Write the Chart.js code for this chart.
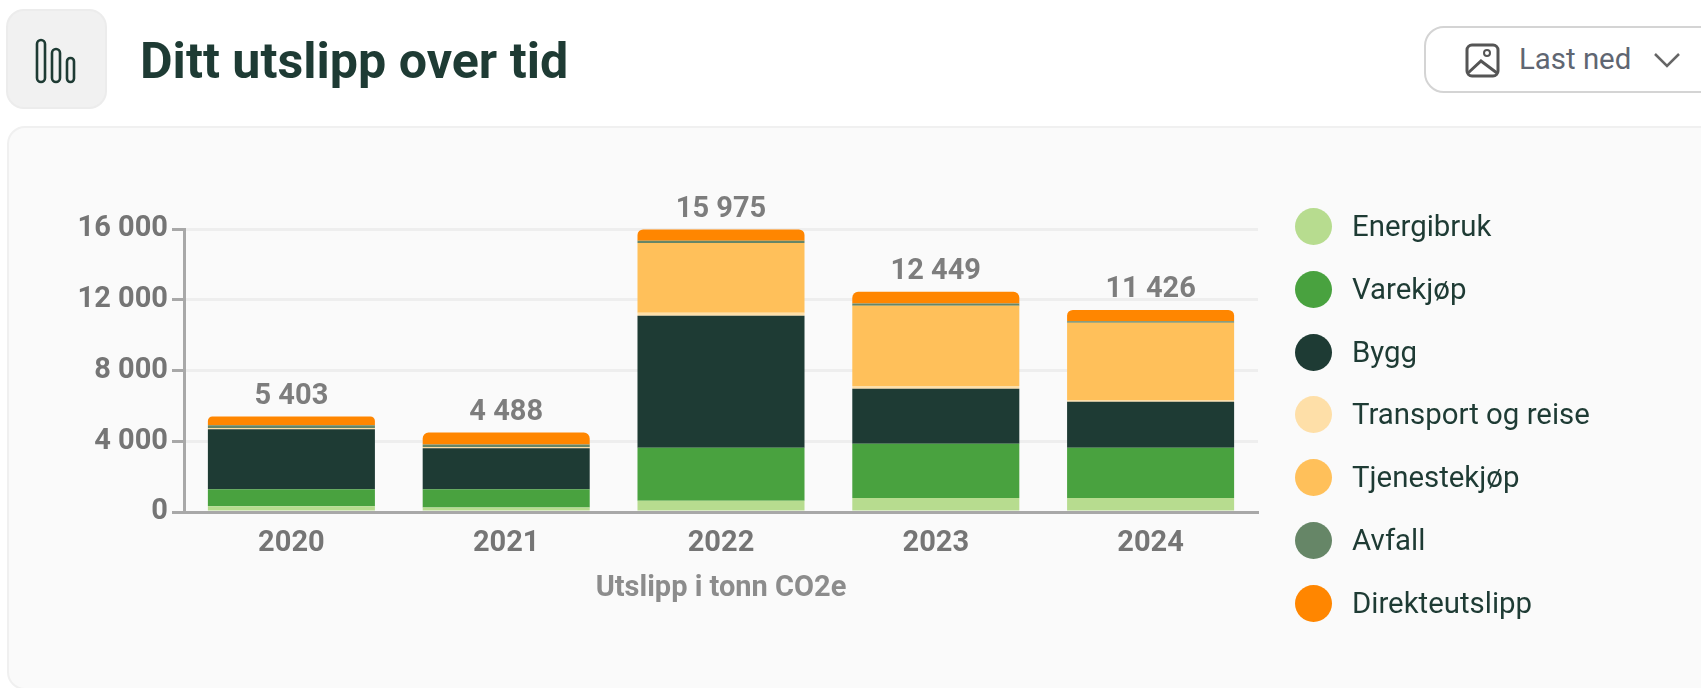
<!DOCTYPE html>
<html lang="no">
<head>
<meta charset="utf-8">
<title>Ditt utslipp over tid</title>
<script src="https://cdn.jsdelivr.net/npm/chart.js@4"></script>
<style>
    html, body { margin: 0; padding: 0; width: 1701px; height: 688px; overflow: hidden; background: #fff; font-family: Roboto, sans-serif; }
    .icon-box { position: absolute; left: 6px; top: 9px; width: 97px; height: 96px; background: #f1f1f1; border: 2px solid #ececec; border-radius: 18px; }
    .icon-bars { position: absolute; left: 0; top: 0; }
    h1 { position: absolute; left: 140px; top: 31px; margin: 0; font-size: 50.2px; line-height: 60px; font-weight: 700; color: #1e3b34; white-space: nowrap; }
    .button { position: absolute; left: 1424px; top: 26px; width: 340px; height: 63px; background: #fff; border: 2px solid #d4d4d4; border-radius: 20px; }
    .button span { position: absolute; left: 93px; top: 13px; font-size: 29.4px; line-height: 36px; color: #5f6672; white-space: nowrap; }
    .button svg { position: absolute; left: 0; top: 0; }
    .card { position: absolute; left: 7px; top: 126px; width: 1800px; height: 560px; background: #fafafa; border: 2px solid #f0f0f0; border-radius: 18px; }
    #graph { position: absolute; left: 0; top: 0; }
    #legend { position: absolute; left: 1295px; top: 195px; }
    .legend-row { position: relative; height: 62.8px; width: 380px; }
    .legend-row i { position: absolute; left: 0; top: 13px; width: 37px; height: 37px; border-radius: 50%; }
    .legend-row span { position: absolute; left: 57px; top: 13px; font-size: 29.4px; line-height: 36px; color: #1e3b34; white-space: nowrap; }
</style>
</head>
<body>

<div class="icon-box">
    <svg class="icon-bars" width="95" height="95">
        <g fill="none" stroke="#1e3b34" stroke-width="2.6">
            <rect x="29" y="29" width="8" height="42" rx="4"/>
            <rect x="44" y="38" width="8" height="33" rx="4"/>
            <rect x="59" y="47" width="7" height="24" rx="3.5"/>
        </g>
    </svg>
</div>
<h1>Ditt utslipp over tid</h1>

<div class="button">
    <svg width="340" height="63">
        <g fill="none" stroke="#555" stroke-width="3">
            <rect x="41" y="17" width="31" height="31" rx="5"/>
            <circle cx="61" cy="25" r="3" stroke-width="2"/>
            <path d="M42 45 L55 33 L71 45"/>
        </g>
        <path d="M229 26 L241 38 L253 26" fill="none" stroke="#666" stroke-width="2.5"/>
    </svg>
    <span>Last ned</span>
</div>

<div class="card"></div>
<canvas id="graph" width="1701" height="688"></canvas>
<div id="legend"></div>

<script>
var years = ['2020', '2021', '2022', '2023', '2024'];
var totals = [5403, 4488, 15975, 12449, 11426];
var totalLabels = ['5 403', '4 488', '15 975', '12 449', '11 426'];

var energibruk = [320, 250, 640, 790, 790];
var varekjop = [960, 1030, 2990, 3070, 2840];
var bygg = [3400, 2330, 7460, 3110, 2610];
var transport = [40, 40, 170, 150, 70];
var tjenestekjop = [30, 30, 3950, 4540, 4390];
var avfall = [150, 140, 130, 130, 80];
var direkteutslipp = [503, 668, 635, 659, 646];

var yTicks = [0, 4000, 8000, 12000, 16000];
var yTickLabels = ['0', '4 000', '8 000', '12 000', '16 000'];

var axisColor = '#a8a8a8';

// sum label above each stack
var totalsPlugin = {
    id: 'totals',
    afterDatasetsDraw: function (chart) {
        var ctx = chart.ctx;
        var meta = chart.getDatasetMeta(chart.data.datasets.length - 1);
        ctx.save();
        ctx.font = '700 29px Roboto';
        ctx.fillStyle = '#7d7d7d';
        ctx.textAlign = 'center';
        ctx.textBaseline = 'middle';
        totals.forEach(function (total, i) {
            ctx.fillText(totalLabels[i], meta.data[i].x, chart.scales.y.getPixelForValue(total) - 20);
        });
        ctx.restore();
    }
};

function bar(label, color, values) {
    return { label: label, backgroundColor: color, data: values, categoryPercentage: 0.8, barPercentage: 0.972 };
}

var datasets = [
    bar('Energibruk', '#b7dc8f', energibruk),
    bar('Varekjøp', '#49a23f', varekjop),
    bar('Bygg', '#1e3b34', bygg),
    bar('Transport og reise', '#fedfa8', transport),
    bar('Tjenestekjøp', '#ffc05a', tjenestekjop),
    bar('Avfall', '#668667', avfall),
    bar('Direkteutslipp', '#ff8600', direkteutslipp)
];
datasets[6].borderRadius = { topLeft: 7, topRight: 7, bottomLeft: 0, bottomRight: 0 };

var chart = new Chart(document.getElementById('graph').getContext('2d'), {
    type: 'bar',
    data: { labels: years, datasets: datasets },
    plugins: [totalsPlugin],
    options: {
        responsive: false,
        animation: false,
        layout: { padding: { left: 0, top: 229, right: 443, bottom: 82 } },
        plugins: { legend: { display: false }, tooltip: { enabled: false } },
        scales: {
            x: {
                stacked: true,
                afterFit: function (scale) { scale.height = 94; },
                grid: { display: false },
                border: { color: axisColor, width: 3 },
                ticks: { color: '#757575', padding: 6, font: { family: 'Roboto', size: 29, weight: '700' } },
                title: {
                    display: true,
                    text: 'Utslipp i tonn CO2e',
                    color: '#8c8c8c',
                    padding: 0,
                    font: { family: 'Roboto', size: 29, weight: '700' }
                }
            },
            y: {
                stacked: true,
                min: 0,
                max: 16000,
                afterFit: function (scale) { scale.width = 184; },
                afterBuildTicks: function (scale) {
                    scale.ticks = yTicks.map(function (v) { return { value: v }; });
                },
                grid: {
                    color: '#eeeeee',
                    lineWidth: 3,
                    tickColor: axisColor,
                    tickLength: 12,
                    tickWidth: 3
                },
                border: { color: axisColor, width: 3 },
                ticks: {
                    color: '#757575',
                    padding: 4,
                    font: { family: 'Roboto', size: 29, weight: '700' },
                    callback: function (value) { return yTickLabels[yTicks.indexOf(value)]; }
                }
            }
        }
    }
});

// legend as html, circles are bigger than the text gap chart.js allows
chart.data.datasets.forEach(function (ds) {
    var row = document.createElement('div');
    row.className = 'legend-row';
    var dot = document.createElement('i');
    dot.style.background = ds.backgroundColor;
    var text = document.createElement('span');
    text.textContent = ds.label;
    row.appendChild(dot);
    row.appendChild(text);
    document.getElementById('legend').appendChild(row);
});
</script>
</body>
</html>
